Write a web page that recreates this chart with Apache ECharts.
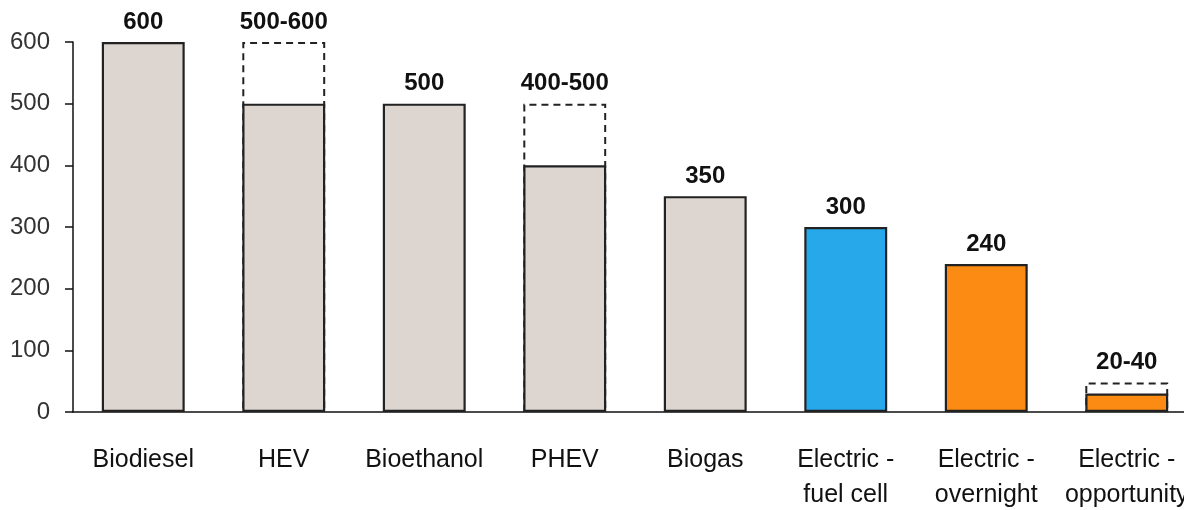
<!DOCTYPE html>
<html><head><meta charset="utf-8">
<script src="https://cdn.jsdelivr.net/npm/echarts@6/dist/echarts.min.js"></script>
<style>html,body{margin:0;padding:0;background:#fff;overflow:hidden;width:1184px;height:510px}#c{display:block;width:1184px;height:510px}</style>
</head><body><div id="c"></div>
<script>
const categories = ["Biodiesel","HEV","Bioethanol","PHEV","Biogas","Electric -\nfuel cell","Electric -\novernight","Electric -\nopportunity"];
const baseValues = [600, 500, 500, 400, 350, 300, 240, 30];
const rangeTop = [null, 600, null, 500, null, null, null, 48];
const valueLabels = ["600","500-600","500","400-500","350","300","240","20-40"];
const barColors = ["#ddd5d0","#ddd5d0","#ddd5d0","#ddd5d0","#ddd5d0","#27a8ea","#fb8b12","#fb8b12"];
const yTicks = [0,100,200,300,400,500,600];

const FONT = '"Liberation Sans Narrow", "Arial Narrow", "Liberation Sans", Arial, sans-serif';
const labelStyle = {show:true, position:'top', distance:8, fontFamily:FONT, fontWeight:'bold', fontSize:24, color:'#111',
  formatter: p => valueLabels[p.dataIndex]};

const chart = echarts.init(document.getElementById('c'), null, {renderer:'canvas'});
chart.setOption({
  animation:false,
  grid:{left:73, top:42, height:370, width:1124, containLabel:false, outerBoundsMode:'none'},
  xAxis:{type:'category', data:categories,
    axisLine:{lineStyle:{color:'#111', width:1.5}}, axisTick:{show:false},
    axisLabel:{fontFamily:FONT, fontSize:25, color:'#111', margin:31, lineHeight:35, interval:0}},
  yAxis:{type:'value', min:yTicks[0], max:yTicks[yTicks.length-1], interval:100, splitLine:{show:false},
    axisLine:{show:true, lineStyle:{color:'#111', width:1.5}},
    axisTick:{show:true, length:8, lineStyle:{color:'#111', width:1.5}},
    axisLabel:{fontFamily:FONT, fontSize:24, color:'#333', margin:23}},
  series:[
    {type:'bar', z:2, barWidth:'59%', barGap:'-100%',
     data: rangeTop.map((v,i)=> v==null ? '-' : {value:v, label:labelStyle}),
     itemStyle:{color:'rgba(255,255,255,0)', borderColor:'#222', borderWidth:2, borderType:[7,5]}},
    {type:'bar', z:3, barWidth:'59%', barGap:'-100%',
     data: baseValues.map((v,i)=>({value:v, itemStyle:{color:barColors[i]},
        label: rangeTop[i]==null ? labelStyle : {show:false}})),
     itemStyle:{borderColor:'#222', borderWidth:2.2}}
  ]
});
</script></body></html>
